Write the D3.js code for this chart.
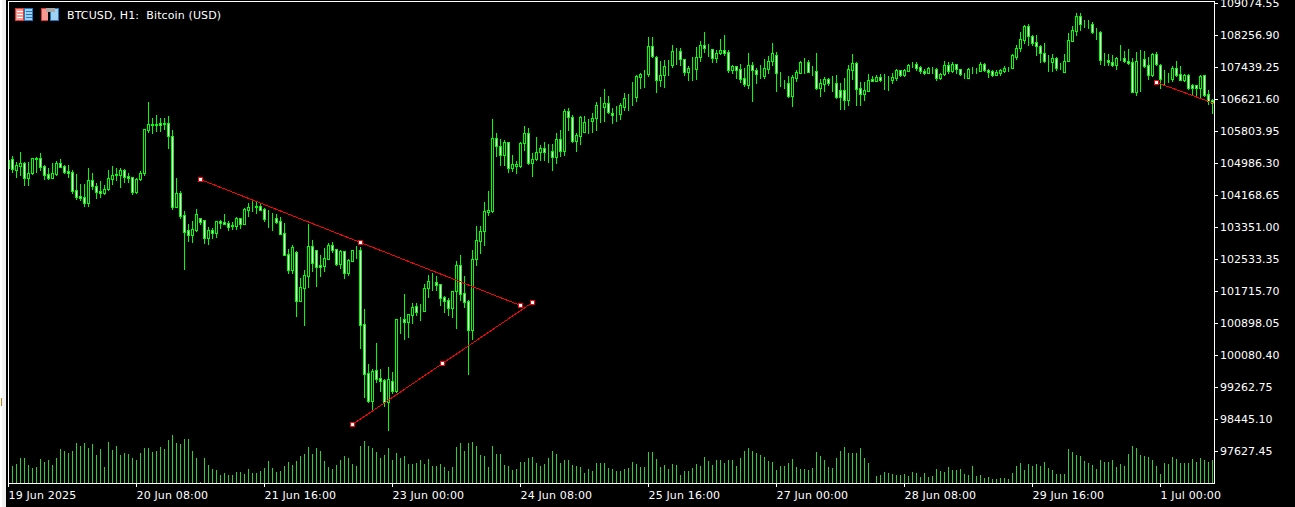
<!DOCTYPE html>
<html>
<head>
<meta charset="utf-8">
<script src="https://cdn.jsdelivr.net/npm/d3@7"></script>
<style>
  html, body { margin: 0; padding: 0; background: #000; overflow: hidden; }
  svg { display: block; }
  text { font-family: "DejaVu Sans", sans-serif; font-size: 11px; fill: #fff; white-space: pre; }
</style>
</head>
<body>
<svg id="chart" width="1295" height="507"></svg>
<script>
// Hourly BTCUSD bars
const opens = [104858,105088,104807,104909,104986,104603,104731,105114,105114,104909,104705,104603,104705,104986,104909,104782,104756,104296,104143,104118,103964,104552,104399,104271,104220,104322,104577,104680,104680,104807,104654,104629,104245,104577,104731,105829,105957,105982,106008,105982,
  106008,105676,103862,104220,103658,103274,103147,103274,103581,103530,103070,103274,103198,103504,103479,103453,103377,103377,103581,103428,103785,103862,103862,103887,103811,103581,103581,103581,103504,103198,
  102661,102252,102712,101460,101792,102098,102865,102763,102380,102354,102533,102891,102789,102405,102738,102175,102482,102763,102763,100872,99620,98905,99697,99492,99441,98879,99416,99160,101000,101000,
  100923,101102,101332,101204,101204,101792,101945,101945,101894,101562,101485,101281,101716,102380,101665,101460,100719,102533,102993,103249,103734,103760,105625,105420,105190,105523,104858,104909,104909,105497,
  105752,104986,105088,105267,105369,105267,105292,105139,105599,105292,106315,106162,105548,105676,105778,106059,106059,106136,106443,106417,106520,106264,106238,106238,106417,106673,106698,106673,107184,107260,
  107260,107976,107695,107107,107235,107465,107490,107848,107848,107644,107312,107388,107388,107695,108001,107899,107899,107669,107797,107874,107823,107363,107465,107388,107158,106980,107490,107363,107235,107210,
  107388,107593,107746,107056,107031,107031,106698,107158,107286,107567,107567,107337,107337,106903,107005,107133,107031,107031,106852,106852,106596,107363,107542,106903,106750,106826,107133,107082,107184,107107,
  107133,107107,107158,107363,107235,107337,107490,107516,107439,107337,107286,107414,107388,107158,107260,107490,107337,107516,107388,107260,107158,107363,107363,107337,107516,107363,107337,107235,107286,107337,
  107414,107414,107695,107925,108129,108487,108231,108078,107976,107797,107618,107567,107669,107414,107312,107593,108103,108359,108742,108538,108538,108538,108333,108333,107618,107618,107567,107490,107644,107669,
  107593,107567,106801,107618,107644,107490,107235,107771,107490,107133,107133,107133,107414,107260,107107,107235,106980,106980,106903,107235,106750,106596];
const closes = [105063,104833,104935,104986,104603,104731,105114,105088,104884,104680,104603,104731,104986,104884,104756,104731,104271,104118,104092,103964,104552,104399,104245,104220,104322,104603,104680,104705,104807,104629,104603,104245,104577,104731,105855,105982,105982,105957,105957,106008,
  105676,103862,104220,103632,103223,103147,103300,103683,103479,103070,103274,103198,103504,103453,103428,103351,103402,103581,103428,103811,103862,103862,103887,103785,103555,103581,103581,103479,103172,102636,
  102252,102840,101460,101818,102124,102865,102431,102329,102329,102559,102891,102763,102405,102738,102175,102508,102763,102763,100846,99595,98905,99671,99467,99416,98879,99467,99160,101000,101000,100923,
  101128,101307,101179,101204,101792,101971,101945,101869,101537,101460,101281,101716,102380,101639,101434,100719,102533,103019,103249,103760,103785,105625,105420,105190,105523,104858,104960,104960,105497,105752,
  104986,105088,105267,105369,105267,105267,105139,105599,105292,106315,106162,105548,105701,106162,106034,106059,106136,106468,106443,106520,106290,106213,106238,106468,106647,106673,106698,107210,107260,107260,
  107976,107720,107107,107235,107465,107465,107848,107848,107644,107312,107414,107388,107695,108001,107925,107899,107669,107797,107874,107797,107363,107465,107363,107133,107005,107490,107363,107260,107235,107414,
  107593,107797,107286,107056,107031,106698,107184,107312,107567,107567,107312,107337,106903,107031,107133,107031,107031,106673,106673,106596,107388,107542,106877,106750,106852,107107,107082,107184,107107,107107,
  107133,107184,107363,107235,107363,107490,107490,107414,107337,107286,107414,107414,107158,107260,107490,107337,107516,107388,107260,107260,107388,107363,107363,107516,107363,107312,107235,107312,107363,107414,
  107414,107746,107925,108154,108487,108231,108052,107976,107797,107593,107618,107669,107414,107414,107593,108129,108385,108742,108538,108538,108538,108333,108333,107618,107618,107567,107490,107669,107644,107593,
  107542,106801,107593,107618,107465,107235,107771,107516,107133,107133,107133,107414,107235,107107,107235,106903,106903,106903,107210,106724,106571,106520];
const highs = [105114,105165,105012,105267,105012,105012,105114,105139,105241,104935,104858,104986,105037,105088,104935,104935,104807,104705,104450,104450,104858,104731,104475,104526,104424,104807,104909,104858,104858,104833,104731,104629,104603,104782,105855,106545,106136,106213,106136,106136,
  106187,105829,104603,104271,103760,103428,103504,103811,103581,103530,103351,103325,103504,103530,103683,103504,103479,103606,103581,103836,103964,104015,103990,103964,103836,103785,103709,103683,103606,103453,
  102789,102891,102738,102047,102252,103428,103019,102763,102636,102814,102942,102968,102789,102763,102738,102533,102763,102865,102840,101255,99850,99722,100387,99722,99467,99773,99646,101000,101051,101639,
  101128,101409,101409,101383,101894,102124,102175,102098,101894,101588,101537,101716,102482,102636,102098,101485,102763,103377,103377,103990,104271,106110,105752,105599,105574,105523,105190,105037,105523,105932,
  105880,105241,105650,105446,105523,105471,105471,105752,105829,106366,106392,106213,105752,106187,106187,106110,106264,106545,106673,106877,106698,106392,106443,106520,106775,106750,107056,107235,107286,107363,
  108206,108206,107720,107593,107618,107618,108001,107925,107925,107644,107465,107695,107950,108103,108333,108027,107899,107874,108154,108257,107874,107490,107465,107516,107414,107797,107567,107414,107490,107644,
  107720,108052,107823,107312,107107,107210,107235,107363,107593,107669,107618,107465,107797,107133,107184,107158,107210,107235,107031,107158,107490,107771,107567,107056,107056,107260,107210,107235,107260,107260,
  107210,107286,107388,107363,107388,107516,107567,107567,107465,107388,107439,107439,107414,107286,107593,107567,107567,107516,107388,107286,107414,107439,107414,107567,107542,107388,107363,107363,107388,107465,
  107439,107771,108001,108333,108512,108538,108257,108257,108001,108052,107746,107771,107695,107542,107771,108308,108487,108819,108819,108640,108640,108589,108436,108359,107797,107771,107746,107695,108001,107848,
  107899,107669,107823,107874,107848,107695,107797,107823,107516,107363,107286,107465,107593,107465,107260,107260,107005,106980,107235,107235,106852,106622];
const lows = [104680,104756,104629,104680,104424,104424,104705,104756,104807,104577,104577,104603,104680,104884,104731,104629,104220,104066,104041,103887,103887,104322,104092,104118,104194,104296,104450,104552,104373,104501,104501,104194,104220,104552,104680,105778,105752,105803,105803,105855,
  105369,103811,103862,103581,102278,102993,102968,103249,103428,102942,102917,103070,103096,103325,103428,103274,103300,103300,103325,103428,103632,103760,103709,103785,103504,103351,103274,103453,103172,102636,
  102175,102175,101077,101460,100846,101818,102226,101843,102098,102226,102533,102712,102380,102303,102047,102124,102482,102559,100259,99007,98879,98649,99390,99160,98777,98164,99109,99135,100642,100489,
  100540,100898,101102,100974,101204,101562,101741,101741,101358,101179,101102,101051,100770,101485,101307,99595,100489,102380,102687,102891,103658,103734,105165,104935,104935,104756,104782,104731,104884,105318,
  104960,104654,105063,105063,105063,105012,104807,104986,105165,105190,105829,105523,105292,105471,105778,105752,105778,105829,106034,106059,106264,106008,106059,106110,106340,106340,106468,106571,106903,106928,
  107210,107695,106801,106954,106928,107235,107439,107516,107490,107235,107107,107107,107133,107593,107823,107720,107567,107567,107771,107746,107312,107286,107158,107056,106954,106903,106571,107031,107158,107158,
  107286,107490,106826,106954,106903,106673,106443,107082,107286,107286,107312,107235,106877,106698,106826,106980,106826,106647,106366,106366,106468,107133,106468,106468,106596,106826,107082,107082,107082,106877,
  106852,107031,107107,107210,107210,107337,107439,107363,107286,107260,107286,107286,107107,107133,107235,107286,107312,107286,107235,107158,107158,107286,107286,107337,107337,107184,107210,107235,107235,107312,
  107337,107414,107644,107848,108052,108001,108001,107746,107567,107567,107337,107337,107363,107388,107312,107593,108103,108257,108385,108461,108436,108308,108154,107516,107490,107490,107465,107388,107618,107567,
  107516,106801,106724,106826,107439,107133,107210,107490,106903,107005,107056,107082,107210,107107,107082,106877,106750,106724,106647,106698,106494,106264];
// Tick volume in hundreds, one per bar (first bar sits under the frame)
const volumes = [0,17,19,25,25,18,15,16,24,21,23,18,25,34,32,30,32,40,37,40,35,39,28,34,16,41,33,37,28,30,29,25,23,30,35,35,31,32,36,34,
  43,48,40,39,44,44,32,25,1,25,18,14,13,8,10,8,8,11,11,9,14,10,10,12,15,22,15,11,12,17,21,18,22,27,29,36,29,35,32,22,
  16,14,18,23,27,25,19,17,37,42,37,35,31,25,28,35,23,30,25,27,19,19,20,23,19,24,17,17,19,16,12,16,36,40,32,40,41,37,28,27,
  16,37,29,29,18,17,13,14,21,21,25,26,20,17,19,25,32,29,20,23,23,18,17,16,10,14,12,20,20,20,15,14,12,12,14,15,21,19,16,16,
  31,31,24,16,18,14,19,18,8,12,12,15,19,17,26,22,18,23,23,20,23,23,17,25,32,35,32,30,28,26,22,21,13,17,17,20,24,16,14,14,
  13,15,31,27,23,16,15,25,32,36,30,30,30,35,25,20,0,7,8,11,10,9,8,8,9,7,11,10,6,10,6,7,14,12,11,16,13,13,14,9,
  8,17,7,8,5,6,4,4,5,5,4,10,17,20,13,19,17,19,17,21,15,13,9,9,9,34,31,28,27,22,20,18,14,23,21,21,23,16,19,17,
  29,37,35,28,27,26,23,17,9,20,19,26,24,20,20,20,24,21,25,23,21,23];

// Price axis and time axis labels
const priceTicks = [109074.55,108256.90,107439.25,106621.60,105803.95,104986.30,104168.65,103351.00,102533.35,101715.70,100898.05,100080.40,99262.75,98445.10,97627.45];
const timeTickBars = [0,32,64,96,128,160,192,224,256,288];
const timeTickLabels = ["19 Jun 2025","20 Jun 08:00","21 Jun 16:00","23 Jun 00:00","24 Jun 08:00","25 Jun 16:00","27 Jun 00:00","28 Jun 08:00","29 Jun 16:00","1 Jul 00:00"];

// Trend lines, bar index and price of each anchor
const upperTrendBars = [48,88,128];
const upperTrendPrices = [104577,102968,101358];
const lowerTrendBars = [86,108.5,131];
const lowerTrendPrices = [98317,99875,101434];
const lastTrendBars = [287,301.5];
const lastTrendPrices = [107056,106507];

const green = "#00ff00";
const volumeGreen = "#32cd32";
const red = "#ff0000";

const svg = d3.select("#chart");

// Scales
const x = d3.scaleLinear().domain([0, 301]).range([8, 1212]);
const y = d3.scaleLinear().domain([97627.45, 109074.55]).range([451, 3]);
const yVol = d3.scaleLinear().domain([0, 50]).range([483, 433]);
const row = p => Math.round(y(p));

// Window strip on the left
svg.append("rect").attr("x", 0).attr("y", 0).attr("width", 2).attr("height", 507).attr("fill", "#fff");
svg.append("rect").attr("x", 2).attr("y", 0).attr("width", 4).attr("height", 507).attr("fill", "#f0f0f0");
svg.append("rect").attr("x", 1).attr("y", 398).attr("width", 1).attr("height", 8).attr("fill", "#c87a10");

svg.append("clipPath").attr("id", "plot")
  .append("rect").attr("x", 9).attr("y", 2).attr("width", 1205).attr("height", 481);

const plot = svg.append("g").attr("clip-path", "url(#plot)").attr("shape-rendering", "crispEdges");

// Volume
plot.selectAll(".vol")
  .data(volumes)
  .enter()
  .append("line")
  .attr("class", "vol")
  .attr("x1", (d, i) => x(i) + 0.5)
  .attr("x2", (d, i) => x(i) + 0.5)
  .attr("y1", yVol(0))
  .attr("y2", d => yVol(d))
  .attr("stroke", volumeGreen);

// Wicks
plot.selectAll(".wick")
  .data(highs)
  .enter()
  .append("line")
  .attr("class", "wick")
  .attr("x1", (d, i) => x(i) + 0.5)
  .attr("x2", (d, i) => x(i) + 0.5)
  .attr("y1", d => row(d))
  .attr("y2", (d, i) => row(lows[i]) + 1)
  .attr("stroke", green);

// Bodies: hollow when the bar closes up, white when it closes down
plot.selectAll(".body")
  .data(opens)
  .enter()
  .append("rect")
  .attr("class", "body")
  .attr("x", (d, i) => x(i) - 0.5)
  .attr("width", 2)
  .attr("y", (d, i) => Math.min(row(d), row(closes[i])) + 0.5)
  .attr("height", (d, i) => Math.abs(row(d) - row(closes[i])))
  .attr("fill", (d, i) => closes[i] > d ? "#000" : "#fff")
  .attr("stroke", green);

// Trend lines and their anchors
const trendLine = d3.line()
  .x(d => x(d[0]) + 0.5)
  .y(d => row(d[1]) + 0.5);

const trends = [
  { points: d3.zip(upperTrendBars, upperTrendPrices), anchors: 3 },
  { points: d3.zip(lowerTrendBars, lowerTrendPrices), anchors: 3 },
  { points: d3.zip(lastTrendBars, lastTrendPrices), anchors: 1 }
];

trends.forEach(t => {
  plot.append("path")
    .attr("d", trendLine(t.points))
    .attr("fill", "none")
    .attr("stroke", red);
  plot.selectAll(null)
    .data(t.points.slice(0, t.anchors))
    .enter()
    .append("rect")
    .attr("x", d => x(d[0]) - 1.5)
    .attr("y", d => row(d[1]) - 1.5)
    .attr("width", 4)
    .attr("height", 4)
    .attr("fill", "#fff")
    .attr("stroke", red);
});

// Frame
svg.append("rect")
  .attr("x", 8.5).attr("y", 1.5)
  .attr("width", 1206).attr("height", 482)
  .attr("fill", "none").attr("stroke", "#fff")
  .attr("shape-rendering", "crispEdges");

// Axes
const axisRight = d3.axisRight(y)
  .tickValues(priceTicks)
  .tickFormat(d => d.toFixed(2))
  .tickSize(4)
  .tickPadding(2);

const gRight = svg.append("g").attr("transform", "translate(1214,0)").call(axisRight);
gRight.select(".domain").remove();
gRight.selectAll("line").attr("stroke", "#fff").attr("shape-rendering", "crispEdges");
gRight.selectAll("text").style("fill", "#fff");
gRight.attr("font-size", null).attr("font-family", null);

const axisBottom = d3.axisBottom(x)
  .tickValues(timeTickBars)
  .tickFormat((d, i) => timeTickLabels[i])
  .tickSize(4)
  .tickPadding(4);

const gBottom = svg.append("g").attr("transform", "translate(0,483)").call(axisBottom);
gBottom.select(".domain").remove();
gBottom.selectAll("line").attr("stroke", "#fff").attr("shape-rendering", "crispEdges");
gBottom.selectAll("text").attr("text-anchor", "start").attr("x", 0).style("fill", "#fff").style("letter-spacing", "0.15px");
gBottom.attr("font-size", null).attr("font-family", null);

// Title and the two toolbar icons
svg.append("text").attr("x", 67).attr("y", 19).style("letter-spacing", "0.12px").text("BTCUSD, H1:  Bitcoin (USD)");

const icons = svg.append("g").attr("shape-rendering", "crispEdges");
icons.append("rect").attr("x", 15.5).attr("y", 8.5).attr("width", 8).attr("height", 12).attr("fill", "#f89890").attr("stroke", "#e03a30");
icons.append("rect").attr("x", 24.5).attr("y", 8.5).attr("width", 8).attr("height", 12).attr("fill", "#a0d0f4").attr("stroke", "#1f78c0");
[11, 14, 17].forEach(r => {
  icons.append("rect").attr("x", 17).attr("y", r).attr("width", 6).attr("height", 1).attr("fill", "#fff");
  icons.append("rect").attr("x", 26).attr("y", r).attr("width", 6).attr("height", 1).attr("fill", "#1f78c0");
});
icons.append("rect").attr("x", 41.5).attr("y", 8.5).attr("width", 7).attr("height", 12).attr("fill", "#f89890").attr("stroke", "#e03a30");
icons.append("rect").attr("x", 50.5).attr("y", 8.5).attr("width", 8).attr("height", 12).attr("fill", "#a0d0f4").attr("stroke", "#1f78c0");
icons.append("rect").attr("x", 46).attr("y", 8).attr("width", 9).attr("height", 4).attr("fill", "#a8a8a8");
icons.append("rect").attr("x", 48).attr("y", 12).attr("width", 2).attr("height", 9).attr("fill", "#000");
</script>
</body>
</html>
